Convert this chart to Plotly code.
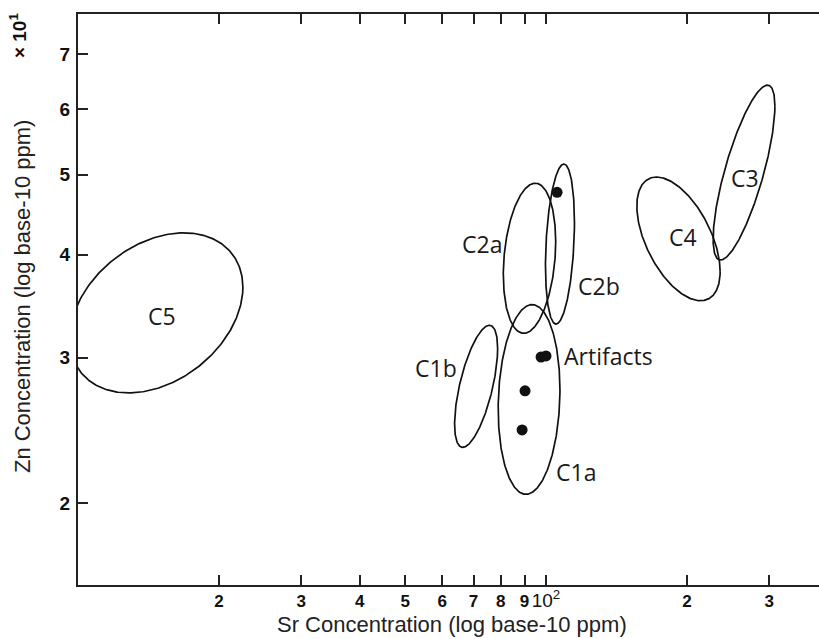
import numpy as np
import plotly.graph_objects as go

# ---- data ----
group_names = ["C1a", "C1b", "C2a", "C2b", "C3", "C4", "C5"]
center_sr = [92.0, 70.9, 92.2, 107.1, 264.9, 191.9, 14.7]      # ppm
center_zn = [26.7, 27.7, 39.6, 41.2, 50.3, 41.8, 34.0]         # ppm
spread_sr_dec = [0.066, 0.046, 0.056, 0.031, 0.066, 0.089, 0.185]  # half-width, log10 decades
spread_zn_dec = [0.115, 0.074, 0.091, 0.097, 0.106, 0.075, 0.097]  # half-height, log10 decades
corr = [0.10, 0.62, 0.22, 0.27, 0.76, -0.53, 0.32]

label_text = ["C1a", "C1b", "C2a", "C2b", "C3", "C4", "C5", "Artifacts"]
label_sr = [115.9, 58.2, 73.0, 129.8, 266.2, 196.3, 15.1, 135.7]
label_zn = [21.8, 29.15, 41.2, 36.65, 49.55, 42.0, 33.7, 30.15]

artifact_sr = [105.6, 97.6, 100.0, 90.2, 88.9]
artifact_zn = [47.6, 30.06, 30.15, 27.35, 24.52]

x_tickvals = [20, 30, 40, 50, 60, 70, 80, 90, 100, 200, 300]
x_ticktext = ["<b>2</b>", "<b>3</b>", "<b>4</b>", "<b>5</b>", "<b>6</b>", "<b>7</b>",
              "<b>8</b>", "<b>9</b>", "<span style='font-size:19px'>10<sup>2</sup></span>",
              "<b>2</b>", "<b>3</b>"]
y_tickvals = [20, 30, 40, 50, 60, 70]
y_ticktext = ["2", "3", "4", "5", "6", "7"]

x_range_log = [1.0, 2.5833]
y_range_log = [1.2016, 1.8938]

fig = go.Figure()

t = np.linspace(0, 2 * np.pi, 361)
for name, cx, cy, hx, hy, r in zip(group_names, center_sr, center_zn,
                                   spread_sr_dec, spread_zn_dec, corr):
    lx = np.log10(cx) + hx * np.cos(t)
    ly = np.log10(cy) + hy * (r * np.cos(t) + np.sqrt(1 - r * r) * np.sin(t))
    fig.add_trace(go.Scatter(x=10 ** lx, y=10 ** ly, mode="lines",
                             line=dict(color="#111111", width=1.7),
                             name=name, showlegend=False, hoverinfo="skip"))

fig.add_trace(go.Scatter(x=artifact_sr, y=artifact_zn, mode="markers",
                         marker=dict(color="#111111", size=11),
                         name="Artifacts", showlegend=False))

for txt, sx, sy in zip(label_text, label_sr, label_zn):
    fig.add_annotation(x=np.log10(sx), y=np.log10(sy), xref="x", yref="y",
                       text=txt, showarrow=False,
                       font=dict(family="Open Sans", size=23, color="#1a1a1a"))

fig.add_annotation(x=0.5047, y=-0.070, xref="paper", yref="paper",
                   text="Sr Concentration (log base-10 ppm)", showarrow=False,
                   xanchor="center", yanchor="middle",
                   font=dict(family="Liberation Sans", size=22, color="#222222"))
fig.add_annotation(x=-0.0756, y=0.506, xref="paper", yref="paper",
                   text="Zn Concentration (log base-10 ppm)", showarrow=False,
                   textangle=-90, xanchor="center", yanchor="middle",
                   font=dict(family="Liberation Sans", size=22, color="#222222"))
fig.add_annotation(x=-0.081, y=0.963, xref="paper", yref="paper",
                   text="<b>× 10<sup>1</sup></b>", showarrow=False,
                   textangle=-90, xanchor="center", yanchor="middle",
                   font=dict(family="Liberation Sans", size=19, color="#111111"))

fig.update_xaxes(type="log", range=x_range_log, tickmode="array",
                 tickvals=x_tickvals, ticktext=x_ticktext,
                 ticks="inside", ticklen=10, tickwidth=1.5, tickcolor="#222222",
                 showline=True, linecolor="#222222", linewidth=2,
                 mirror="ticks", showgrid=False, zeroline=False,
                 tickfont=dict(family="Liberation Sans", size=17, color="#111111"))
fig.update_yaxes(type="log", range=y_range_log, tickmode="array",
                 tickvals=y_tickvals, ticktext=["<b>%s</b>" % s for s in y_ticktext],
                 ticks="inside", ticklen=10, tickwidth=1.5, tickcolor="#222222",
                 showline=True, linecolor="#222222", linewidth=2,
                 showgrid=False, zeroline=False, ticklabelstandoff=2,
                 tickfont=dict(family="Liberation Sans", size=19, color="#111111"))

fig.update_layout(width=819, height=639,
                  margin=dict(l=78, r=0, t=14, b=54),
                  paper_bgcolor="white", plot_bgcolor="white",
                  showlegend=False)

fig.write_html("out.html", config={"displayModeBar": False},
               post_script="document.body.style.margin='0';"
                           "document.body.style.overflow='hidden';")
